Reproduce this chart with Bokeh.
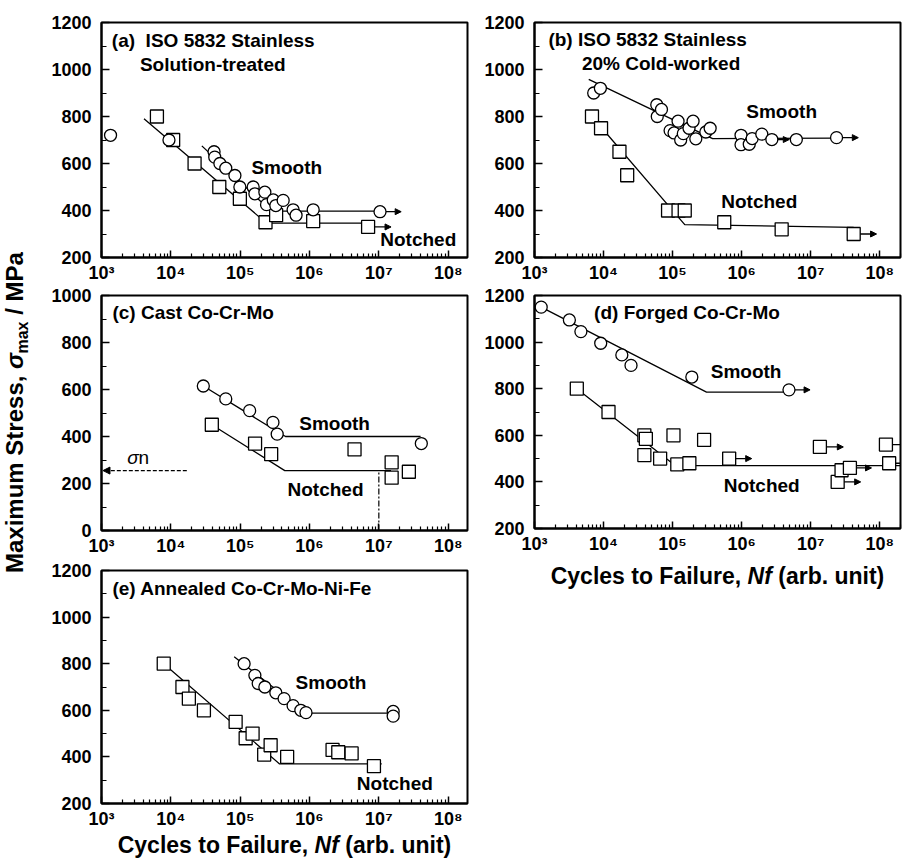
import math
from bokeh.plotting import figure
from bokeh.models import (Range1d, SingleIntervalTicker, FixedTicker, CustomJSTickFormatter,
                          Label, Arrow, NormalHead, ColumnDataSource)
from bokeh.layouts import row, column
from bokeh.embed import file_html
from bokeh.resources import INLINE

FONT = "Liberation Sans"

# ---------------- data ----------------
x_major_ticks = [1e3, 1e4, 1e5, 1e6, 1e7, 1e8]
x_minor_ticks = [k * 10 ** e for e in range(3, 9) for k in range(2, 10)]

# (a) ISO 5832 stainless, solution-treated
a_smooth_N = [1.35e3, 9.4e3, 4.2e4, 4.3e4, 5.1e4, 6.2e4, 8.4e4, 9.9e4, 1.54e5, 1.63e5,
              2.27e5, 2.4e5, 3.0e5, 3.27e5, 4.17e5, 5.8e5, 6.4e5, 1.13e6, 1.04e7]
a_smooth_S = [720, 700, 650, 627, 600, 580, 549, 500, 500, 471,
              478, 425, 445, 421, 443, 403, 380, 403, 395]
a_notch_N = [6.3e3, 1.08e4, 2.2e4, 5.0e4, 9.9e4, 2.32e5, 3.3e5, 1.13e6, 7.0e6]
a_notch_S = [800, 700, 600, 500, 450, 350, 380, 355, 330]
a_fit_smooth_N = [2.8e4, 2.8e5, 1.04e7]
a_fit_smooth_S = [675, 397, 397]
a_fit_notch_N = [4.1e3, 2.4e5, 7.0e6]
a_fit_notch_S = [790, 346, 346]
a_runout_N = [1.04e7, 7.0e6]
a_runout_to = [2.1e7, 1.5e7]
a_runout_S = [395, 330]

# (b) ISO 5832 stainless, 20% cold-worked
b_smooth_N = [7.2e3, 9.0e3, 5.9e4, 6.0e4, 6.9e4, 9.2e4, 1.05e5, 1.2e5, 1.31e5, 1.43e5,
              1.73e5, 1.98e5, 2.17e5, 3.03e5, 3.5e5, 9.8e5, 9.8e5, 1.29e6, 1.42e6, 1.96e6,
              2.74e6, 6.2e6, 2.37e7]
b_smooth_S = [900, 920, 850, 800, 830, 740, 730, 780, 700, 727,
              750, 780, 705, 734, 750, 720, 680, 682, 706, 725,
              702, 702, 710]
b_notch_N = [6.8e3, 9.2e3, 1.7e4, 2.2e4, 8.6e4, 1.22e5, 1.5e5, 5.6e5, 3.8e6, 4.2e7]
b_notch_S = [800, 750, 650, 550, 400, 400, 400, 350, 320, 300]
b_fit_smooth_N = [6.1e3, 3.8e5, 2.37e7]
b_fit_smooth_S = [958, 706, 708]
b_fit_notch_N = [6.8e3, 1.5e5, 4.2e7]
b_fit_notch_S = [800, 340, 328]
b_runout_N = [2.74e6, 2.37e7, 4.2e7]
b_runout_to = [4.9e6, 4.9e7, 9.0e7]
b_runout_S = [702, 710, 300]

# (c) Cast Co-Cr-Mo
c_smooth_N = [2.94e4, 6.2e4, 1.37e5, 2.97e5, 3.42e5, 4.1e7]
c_smooth_S = [615, 560, 510, 460, 410, 370]
c_notch_N = [3.9e4, 1.64e5, 2.8e5, 4.46e6, 1.53e7, 1.53e7, 2.71e7]
c_notch_S = [450, 370, 325, 345, 290, 225, 250]
c_fit_smooth_N = [2.94e4, 4.5e5, 4.0e7]
c_fit_smooth_S = [615, 400, 400]
c_fit_notch_N = [3.9e4, 4.4e5, 1.5e7]
c_fit_notch_S = [450, 255, 255]
c_sigma_n = 255
c_N_limit = 1e7
c_sigma_arrow_from = 1.7e4
c_sigma_arrow_to = 1.05e3

# (d) Forged Co-Cr-Mo
d_smooth_N = [1.25e3, 3.2e3, 4.7e3, 9.1e3, 1.84e4, 2.5e4, 1.9e5, 4.85e6]
d_smooth_S = [1150, 1095, 1045, 995, 945, 900, 850, 795]
d_notch_N = [4.1e3, 1.18e4, 3.9e4, 4.1e4, 3.9e4, 6.6e4, 1.03e5, 1.17e5, 1.75e5, 2.86e5,
             6.6e5, 1.36e7, 2.46e7, 2.8e7, 3.7e7, 1.23e8, 1.37e8]
d_notch_S = [800, 700, 600, 585, 515, 500, 600, 475, 480, 580,
             500, 550, 400, 450, 460, 560, 480]
d_fit_smooth_N = [1.25e3, 3.1e5, 4.85e6]
d_fit_smooth_S = [1150, 785, 785]
d_fit_notch_N = [4.1e3, 1.09e5, 2.0e8]
d_fit_notch_S = [800, 470, 470]
d_runout_N = [4.85e6, 6.6e5, 1.36e7, 2.46e7, 3.7e7, 1.23e8, 1.37e8]
d_runout_to = [9.8e6, 1.4e6, 2.97e7, 5.3e7, 7.6e7, 2.6e8, 2.9e8]
d_runout_S = [795, 500, 550, 400, 460, 560, 480]

# (e) Annealed Co-Cr-Mo-Ni-Fe
e_smooth_N = [1.14e5, 1.63e5, 1.82e5, 2.27e5, 3.27e5, 4.3e5, 5.8e5, 7.5e5, 8.9e5, 1.61e7, 1.61e7]
e_smooth_S = [800, 750, 715, 700, 675, 650, 620, 600, 590, 595, 575]
e_notch_N = [7.9e3, 1.47e4, 1.82e4, 3.0e4, 8.6e4, 1.2e5, 1.51e5, 2.22e5, 2.75e5, 4.76e5,
             2.15e6, 2.6e6, 4.05e6, 8.5e6]
e_notch_S = [800, 700, 650, 600, 550, 480, 500, 410, 450, 400,
             430, 420, 415, 360]
e_fit_smooth_N = [8.2e4, 8.9e5, 1.61e7]
e_fit_smooth_S = [830, 588, 588]
e_fit_notch_N = [7.9e3, 3.7e5, 1.1e7]
e_fit_notch_S = [800, 370, 370]

# ---------------- helpers ----------------
SUP_JS = """
const sup = ["\u2070","\u00b9","\u00b2","\u00b3","\u2074","\u2075","\u2076","\u2077","\u2078","\u2079"];
const e = Math.round(Math.log10(tick));
return "10" + sup[e];
"""


def panel(width, height, bl, br, bt, bb, xmax, ymin, ymax):
    p = figure(width=width, height=height, x_axis_type="log",
               x_range=Range1d(1e3, xmax), y_range=Range1d(ymin, ymax),
               output_backend="svg", toolbar_location=None,
               min_border_left=bl, min_border_right=br,
               min_border_top=bt, min_border_bottom=bb)
    p.title.visible = False
    p.grid.visible = False
    p.outline_line_color = "black"
    p.outline_line_width = 2
    p.background_fill_color = "white"
    p.border_fill_color = "white"
    xa = p.xaxis[0]
    ya = p.yaxis[0]
    xa.ticker = FixedTicker(ticks=x_major_ticks, minor_ticks=x_minor_ticks)
    xa.formatter = CustomJSTickFormatter(code=SUP_JS)
    ya.ticker = SingleIntervalTicker(interval=200, num_minor_ticks=2)
    for ax in (xa, ya):
        ax.axis_line_color = "black"
        ax.axis_line_width = 2
        ax.major_tick_out = 0
        ax.minor_tick_out = 0
        ax.major_tick_line_color = "black"
        ax.minor_tick_line_color = "black"
        ax.major_tick_line_width = 1.5
        ax.minor_tick_line_width = 1.2
        ax.major_label_text_font = FONT
        ax.major_label_text_font_style = "bold"
        ax.major_label_text_font_size = "18px"
        ax.major_label_text_color = "black"
    xa.major_tick_in = 7
    xa.minor_tick_in = 4
    ya.major_tick_in = 8
    ya.minor_tick_in = 5
    xa.major_label_standoff = 5
    ya.major_label_standoff = 10
    return p


def strip(width, height, bl=0, br=0):
    fw = width - bl - br
    s = figure(width=width, height=height, x_range=Range1d(0, fw), y_range=Range1d(0, height),
               output_backend="svg", toolbar_location=None, x_axis_location=None,
               y_axis_location=None, min_border_left=bl, min_border_right=br,
               min_border_top=0, min_border_bottom=0)
    s.title.visible = False
    s.grid.visible = False
    s.outline_line_color = None
    s.border_fill_color = "white"
    s.background_fill_color = "white"
    return s


def txt(p, x, y, s, size="19px", style="bold", align="center", baseline="middle",
        xoff=0, yoff=0, angle=0.0):
    p.add_layout(Label(x=x, y=y, text=s, text_font=FONT, text_font_size=size,
                       text_font_style=style, text_align=align, text_baseline=baseline,
                       x_offset=xoff, y_offset=yoff, angle=angle, text_color="black"))


def series(p, smN, smS, noN, noS, fsN, fsS, fnN, fnS, rN=None, rTo=None, rS=None):
    p.line(fsN, fsS, line_color="black", line_width=1.3)
    p.line(fnN, fnS, line_color="black", line_width=1.3)
    if rN:
        src = ColumnDataSource(dict(x0=rN, x1=rTo, y=rS))
        p.add_layout(Arrow(end=NormalHead(size=6, fill_color="black", line_color="black", line_width=1),
                           x_start="x0", y_start="y", x_end="x1", y_end="y", source=src,
                           line_color="black", line_width=1.3, level="underlay"))
    p.scatter(noN, noS, marker="square", size=13, fill_color="white",
              line_color="black", line_width=1.3)
    p.scatter(smN, smS, marker="circle", size=12, fill_color="white",
              line_color="black", line_width=1.3)


def xtitle(s, xc, yc, fs=23):
    # pieces: "Cycles to Failure," + " " + "Nf"(italic) + " " + "(arb. unit)"
    w1, wsp, w2, w3 = 8.281 * fs, 0.278 * fs, 1.055 * fs, 4.611 * fs
    total = w1 + wsp + w2 + wsp + w3
    x1 = xc - total / 2
    x2 = x1 + w1 + wsp
    x3 = x2 + w2 + wsp
    size = f"{fs}px"
    txt(s, x1, yc, "Cycles to Failure,", size=size, align="left")
    txt(s, x2, yc, "Nf", size=size, style="bold italic", align="left")
    txt(s, x3, yc, "(arb. unit)", size=size, align="left")


LX = 1.9e8
RX = 2.0e8

# ---------------- panels ----------------
fa = panel(432, 285, 53, 13, 22, 28, LX, 200, 1200)
series(fa, a_smooth_N, a_smooth_S, a_notch_N, a_notch_S, a_fit_smooth_N, a_fit_smooth_S,
       a_fit_notch_N, a_fit_notch_S, a_runout_N, a_runout_to, a_runout_S)
txt(fa, 1.41e3, 1124, "(a)\u00a0 ISO 5832 Stainless", align="left")
txt(fa, 3.58e3, 1022, "Solution-treated", align="left")
txt(fa, 4.7e5, 584, "Smooth")
txt(fa, 3.7e7, 275, "Notched")

fb = panel(422, 285, 54, 2, 22, 28, RX, 200, 1200)
series(fb, b_smooth_N, b_smooth_S, b_notch_N, b_notch_S, b_fit_smooth_N, b_fit_smooth_S,
       b_fit_notch_N, b_fit_notch_S, b_runout_N, b_runout_to, b_runout_S)
txt(fb, 1.59e3, 1126, "(b) ISO 5832 Stainless", align="left")
txt(fb, 4.86e3, 1024, "20% Cold-worked", align="left")
txt(fb, 3.8e6, 823, "Smooth")
txt(fb, 1.8e6, 438, "Notched")

fc = panel(432, 273, 53, 13, 10, 28, LX, 0, 1000)
series(fc, c_smooth_N, c_smooth_S, c_notch_N, c_notch_S, c_fit_smooth_N, c_fit_smooth_S,
       c_fit_notch_N, c_fit_notch_S)
fc.segment(x0=[c_N_limit], y0=[0], x1=[c_N_limit], y1=[c_sigma_n], line_color="black",
           line_width=1.2, line_dash="6 2 2 2")
fc.add_layout(Arrow(end=NormalHead(size=7, fill_color="black", line_color="black", line_width=1),
                    x_start=c_sigma_arrow_from, y_start=c_sigma_n, x_end=c_sigma_arrow_to,
                    y_end=c_sigma_n, line_color="black", line_width=1.2, line_dash="4 2"))
txt(fc, 1.44e3, 926, "(c) Cast Co-Cr-Mo", align="left")
txt(fc, 2.3e6, 454, "Smooth")
txt(fc, 1.7e6, 175, "Notched")
txt(fc, 3.43e3, 309, "\u03c3", style="italic", align="right")
txt(fc, 3.43e3, 309, "n", style="normal", align="left")

fd = panel(422, 271, 54, 2, 10, 28, RX, 200, 1200)
series(fd, d_smooth_N, d_smooth_S, d_notch_N, d_notch_S, d_fit_smooth_N, d_fit_smooth_S,
       d_fit_notch_N, d_fit_notch_S, d_runout_N, d_runout_to, d_runout_S)
txt(fd, 7.3e3, 1126, "(d) Forged Co-Cr-Mo", align="left")
txt(fd, 1.16e6, 874, "Smooth")
txt(fd, 1.95e6, 383, "Notched")

fe = panel(432, 273, 53, 13, 12, 26, LX, 200, 1200)
series(fe, e_smooth_N, e_smooth_S, e_notch_N, e_notch_S, e_fit_smooth_N, e_fit_smooth_S,
       e_fit_notch_N, e_fit_notch_S)
txt(fe, 1.44e3, 1122, "(e) Annealed Co-Cr-Mo-Ni-Fe", align="left")
txt(fe, 2.04e6, 718, "Smooth")
txt(fe, 1.7e7, 285, "Notched")

# x-axis title strips (below panels d and e), frames aligned with the panels above
sd = strip(422, 40, 54, 2)
xtitle(sd, 183, 20.7)
se = strip(432, 29, 53, 13)
xtitle(se, 183, 15.2)

# y-axis title strip
ytf = strip(48, 860)
A = math.pi / 2
txt(ytf, 14, 287.5, "Maximum Stress,", size="24px", align="left", angle=A)
txt(ytf, 14, 491.6, "\u03c3", size="24px", style="bold italic", align="left", angle=A)
txt(ytf, 22, 507.0, "max", size="16px", align="left", angle=A)
txt(ytf, 14, 545.7, "/ MPa", size="24px", align="left", angle=A)

layout = row(ytf, column(fa, fc, fe, se), column(fb, fd, sd))

open("out.html", "w").write(file_html(layout, INLINE))
